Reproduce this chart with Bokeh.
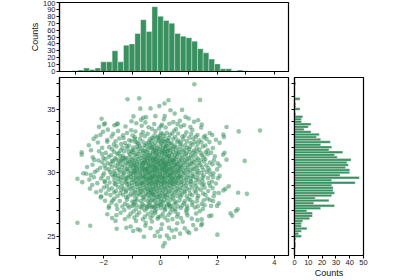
from bokeh.plotting import figure
from bokeh.layouts import column, row
from bokeh.models import Range1d, FixedTicker
from bokeh.embed import file_html
from bokeh.resources import INLINE

GREEN = "#2e8b57"
FONT = "Liberation Sans"

# ---- marginal histogram of x (top), bins of width 0.2 starting at -3.1
top_counts = [1, 2, 5, 3, 5, 14, 14, 30, 14, 38, 40, 55, 75, 58, 94, 80, 74, 70,
              55, 51, 49, 44, 33, 27, 18, 11, 4, 4, 1, 2, 1]
top_first_edge = -3.10
top_bin_width = 0.2

# ---- marginal histogram of y (right), bins of width 0.2 starting at 24.1 (bottom to top)
right_counts = [1, 1, 0, 1, 5, 3, 5, 9, 5, 5, 6, 11, 13, 13, 9, 19, 29, 14, 25, 15,
                27, 29, 28, 28, 27, 44, 27, 47, 33, 40, 40, 37, 39, 38, 41, 31, 29, 35, 25, 27,
                19, 26, 19, 16, 18, 12, 7, 10, 12, 5, 5, 6, 1, 0, 4, 1, 1, 0, 4, 0,
                0, 0, 0, 0, 1]
right_first_edge = 24.1
right_bin_width = 0.2

# ---- scatter points (x, y)
points = [
(1.19,36.95),
(-1.16,35.77),(-0.75,35.84),(1.39,35.72),(0.28,35.69),
(0.14,35.44),(-0.04,35.23),
(-0.71,35.03),(-0.35,35.05),(0.76,34.93),(0.35,34.91),
(0.50,34.64),
(-0.18,34.44),(-0.51,34.36),(0.15,34.45),(-0.95,34.42),(-0.61,34.32),(0.88,34.38),
(-2.07,34.23),(0.99,34.26),(0.12,34.19),(-0.68,34.15),(1.32,34.12),
(1.18,34.00),(-0.53,33.95),(-1.02,34.04),(0.45,33.97),(0.68,34.08),
(-1.99,33.79),(-1.54,33.79),(-1.62,33.72),(-1.95,33.86),(-1.50,33.85),(-0.22,33.82),(0.05,33.76),(0.31,33.84),(0.83,33.73),(1.45,33.78),(-0.85,33.88),(0.60,33.81),
(-2.16,33.60),(-1.23,33.63),(-0.42,33.57),(0.02,33.66),(0.18,33.55),(0.72,33.62),(1.05,33.58),(1.43,33.54),(-0.66,33.68),(2.32,33.59),
(3.50,33.31),(-1.85,33.38),(-1.03,33.33),(-0.30,33.44),(0.55,33.42),(1.12,33.36),(-0.05,33.47),
(2.75,33.24),(-1.49,33.28),(-1.18,33.12),(-2.02,33.21),(-0.62,33.18),(-0.18,33.26),(0.22,33.14),(0.48,33.29),(0.91,33.17),(1.73,33.12),(-0.88,33.23),(0.02,33.11),
(2.21,33.00),(-2.11,32.97),(-0.68,32.97),(-0.98,32.92),(1.57,32.90),(1.82,32.96),(-1.66,33.05),(-1.32,32.94),(-0.45,33.06),(-0.21,32.93),(0.08,33.02),(0.33,32.98),(0.62,33.07),(0.85,32.92),(1.08,33.03),(1.30,32.96),(-0.02,32.91),(0.41,33.08),
(2.23,32.80),(-2.26,32.85),(-1.30,32.72),(-0.90,32.78),(-1.72,32.83),(-0.55,32.86),(-0.30,32.74),(-0.08,32.81),(0.15,32.88),(0.29,32.72),(0.52,32.79),(0.77,32.84),(1.01,32.75),(1.24,32.82),(1.52,32.77),(-0.12,32.71),
(-0.90,32.62),(-1.87,32.56),(-2.35,32.65),(-1.45,32.68),(-1.10,32.55),(-0.72,32.66),(-0.38,32.59),(-0.25,32.68),(-0.04,32.54),(0.10,32.63),(0.24,32.57),(0.45,32.66),(0.63,32.52),(0.80,32.61),(1.15,32.68),(1.36,32.55),(1.62,32.64),(1.95,32.58),(0.01,32.69),
(-1.87,32.43),(1.72,32.40),(-2.20,32.37),(-1.58,32.46),(-1.25,32.33),(-1.02,32.48),(-0.81,32.36),(-0.63,32.44),(-0.49,32.31),(-0.33,32.47),(-0.19,32.38),(-0.07,32.45),(0.04,32.32),(0.16,32.41),(0.27,32.48),(0.39,32.35),(0.58,32.43),(0.71,32.37),(0.93,32.46),(1.06,32.33),(1.21,32.42),(1.44,32.38),(-0.41,32.36),(0.11,32.47),(-0.88,32.41),(2.08,32.34),
(-1.64,32.20),(-2.52,32.15),(-1.38,32.24),(-1.11,32.13),(-0.77,32.26),(-0.56,32.17),(-0.28,32.23),(-0.14,32.11),(0.02,32.27),(0.19,32.14),(0.36,32.22),(0.50,32.12),(0.69,32.25),(0.87,32.16),(1.13,32.21),(1.31,32.27),(1.58,32.13),(-0.37,32.16),(0.28,32.28),
(-1.80,32.00),(1.84,31.93),(-2.05,31.96),(-1.55,32.06),(-1.34,31.94),(-1.19,32.08),(-0.96,31.97),(-0.83,32.04),(-0.66,31.92),(-0.52,32.07),(-0.39,31.98),(-0.24,32.05),(-0.11,31.91),(0.00,32.03),(0.09,31.96),(0.21,32.08),(0.33,31.94),(0.46,32.02),(0.58,31.97),(0.74,32.06),(0.92,31.93),(1.04,32.01),(1.27,31.98),(1.49,32.05),(-0.31,31.95),(0.15,32.04),(-0.73,32.09),
(-2.44,31.76),(-1.70,31.84),(-1.41,31.73),(-1.16,31.87),(-0.94,31.78),(-0.79,31.85),(-0.61,31.74),(-0.45,31.82),(-0.29,31.88),(-0.16,31.75),(-0.04,31.83),(0.07,31.72),(0.18,31.86),(0.31,31.79),(0.43,31.88),(0.55,31.73),(0.68,31.82),(0.83,31.77),(1.00,31.85),(1.18,31.74),(1.37,31.81),(1.66,31.78),(-0.21,31.79),(0.26,31.71),(-1.02,31.72),
(-2.77,31.60),(-2.16,31.68),(2.25,31.56),(-1.92,31.55),(-1.63,31.64),(-1.47,31.52),(-1.28,31.67),(-1.12,31.58),(-0.99,31.63),(-0.86,31.51),(-0.72,31.66),(-0.60,31.57),(-0.47,31.62),(-0.36,31.54),(-0.25,31.68),(-0.13,31.59),(-0.03,31.65),(0.06,31.53),(0.14,31.61),(0.24,31.67),(0.35,31.56),(0.44,31.64),(0.57,31.52),(0.66,31.60),(0.79,31.66),(0.91,31.55),(1.03,31.63),(1.16,31.58),(1.28,31.67),(1.42,31.53),(1.59,31.61),(1.78,31.57),(-0.54,31.69),(0.10,31.69),(-0.19,31.52),
(-2.77,31.41),(2.20,31.40),(-2.05,31.45),(-1.74,31.36),(-1.52,31.47),(-1.33,31.33),(-1.06,31.44),(-0.91,31.38),(-0.77,31.46),(-0.64,31.32),(-0.50,31.41),(-0.38,31.37),(-0.27,31.48),(-0.14,31.34),(-0.06,31.43),(0.05,31.38),(0.17,31.46),(0.29,31.33),(0.40,31.42),(0.51,31.36),(0.63,31.47),(0.76,31.39),(0.89,31.44),(1.07,31.35),(1.23,31.42),(1.46,31.37),(1.66,31.45),(-0.45,31.32),(0.22,31.41),
(-2.38,31.20),(1.91,31.29),(-2.01,31.15),(-1.82,31.24),(-1.60,31.12),(-1.41,31.26),(-1.22,31.17),(-1.09,31.23),(-0.96,31.11),(-0.82,31.27),(-0.69,31.16),(-0.56,31.22),(-0.43,31.13),(-0.32,31.25),(-0.20,31.18),(-0.09,31.28),(0.01,31.14),(0.12,31.21),(0.23,31.26),(0.34,31.12),(0.47,31.19),(0.59,31.24),(0.72,31.15),(0.86,31.22),(0.99,31.17),(1.14,31.26),(1.31,31.13),(1.52,31.21),(-0.27,31.13),(0.30,31.28),(-1.31,31.12),
(-2.33,31.00),(2.32,31.02),(1.88,30.98),(2.96,30.92),(-2.18,30.95),(-1.94,31.06),(-1.70,30.93),(-1.55,31.04),(-1.38,30.97),(-1.24,31.08),(-1.13,30.92),(-1.01,31.03),(-0.89,30.96),(-0.78,31.07),(-0.66,30.91),(-0.57,31.01),(-0.46,30.94),(-0.37,31.06),(-0.28,30.98),(-0.19,31.08),(-0.10,30.93),(-0.02,31.02),(0.07,30.96),(0.16,31.07),(0.25,30.92),(0.33,31.03),(0.42,30.97),(0.53,31.08),(0.64,30.94),(0.75,31.02),(0.87,30.96),(1.00,31.06),(1.12,30.92),(1.26,31.01),(1.41,30.97),(1.58,31.05),(-0.52,31.09),(0.11,30.91),(-0.14,31.04),(0.48,30.99),(-1.45,30.93),
(-2.05,30.82),(-1.86,30.74),(-1.67,30.86),(-1.49,30.71),(-1.33,30.88),(-1.20,30.77),(-1.08,30.84),(-0.95,30.72),(-0.84,30.87),(-0.74,30.79),(-0.63,30.73),(-0.54,30.85),(-0.44,30.76),(-0.35,30.89),(-0.26,30.71),(-0.17,30.82),(-0.08,30.75),(0.00,30.87),(0.09,30.78),(0.18,30.72),(0.27,30.85),(0.37,30.76),(0.46,30.88),(0.56,30.73),(0.67,30.83),(0.79,30.77),(0.92,30.86),(1.05,30.72),(1.19,30.81),(1.35,30.75),(1.53,30.87),(1.74,30.79),(2.01,30.74),(-0.22,30.88),(0.13,30.71),(-0.58,30.78),(0.41,30.81),(-1.01,30.79),
(2.08,30.54),(-2.39,30.62),(-1.97,30.56),(-1.76,30.67),(-1.58,30.53),(-1.42,30.64),(-1.27,30.58),(-1.14,30.68),(-1.03,30.52),(-0.92,30.61),(-0.81,30.66),(-0.71,30.55),(-0.61,30.63),(-0.51,30.69),(-0.42,30.57),(-0.33,30.65),(-0.24,30.52),(-0.15,30.61),(-0.06,30.68),(0.03,30.54),(0.11,30.63),(0.20,30.57),(0.29,30.66),(0.39,30.53),(0.49,30.62),(0.60,30.68),(0.71,30.56),(0.83,30.64),(0.96,30.59),(1.10,30.67),(1.24,30.54),(1.40,30.62),(1.61,30.57),(1.83,30.65),(-0.37,30.51),(0.24,30.69),(-0.88,30.54),(0.55,30.58),(-0.02,30.61),
(-1.93,30.33),(-2.58,30.44),(-2.12,30.38),(-1.71,30.46),(-1.50,30.35),(-1.35,30.43),(-1.19,30.32),(-1.06,30.47),(-0.95,30.37),(-0.85,30.42),(-0.75,30.34),(-0.65,30.48),(-0.56,30.39),(-0.47,30.31),(-0.39,30.44),(-0.30,30.36),(-0.21,30.48),(-0.12,30.33),(-0.04,30.41),(0.05,30.37),(0.14,30.46),(0.23,30.32),(0.32,30.43),(0.42,30.38),(0.52,30.47),(0.63,30.34),(0.74,30.42),(0.86,30.36),(0.99,30.45),(1.13,30.31),(1.29,30.39),(1.46,30.44),(1.68,30.35),(-0.17,30.39),(0.19,30.41),(-0.62,30.32),(0.68,30.48),
(1.99,30.25),(-2.22,30.18),(-1.82,30.25),(-1.63,30.13),(-1.46,30.22),(-1.31,30.16),(-1.17,30.27),(-1.05,30.12),(-0.94,30.21),(-0.83,30.28),(-0.73,30.14),(-0.64,30.23),(-0.55,30.17),(-0.46,30.26),(-0.37,30.12),(-0.29,30.21),(-0.20,30.27),(-0.12,30.15),(-0.03,30.24),(0.05,30.18),(0.13,30.28),(0.21,30.13),(0.30,30.22),(0.39,30.16),(0.48,30.25),(0.58,30.19),(0.68,30.28),(0.79,30.14),(0.91,30.23),(1.04,30.17),(1.18,30.26),(1.33,30.13),(1.51,30.21),(1.72,30.16),(-0.24,30.14),(0.09,30.25),(-0.51,30.29),(0.35,30.29),(-0.90,30.12),(0.63,30.11),
(-2.71,29.95),(-2.61,29.91),(-2.31,30.04),(-1.98,29.95),(-1.77,30.07),(-1.59,29.93),(-1.43,30.03),(-1.29,29.96),(-1.16,30.08),(-1.04,29.92),(-0.93,30.01),(-0.82,30.06),(-0.72,29.94),(-0.63,30.02),(-0.54,29.97),(-0.45,30.08),(-0.36,29.91),(-0.27,30.04),(-0.19,29.98),(-0.10,30.07),(-0.02,29.93),(0.06,30.03),(0.15,29.96),(0.24,30.08),(0.33,29.92),(0.42,30.01),(0.52,30.06),(0.62,29.95),(0.73,30.04),(0.85,29.97),(0.98,30.07),(1.12,29.93),(1.27,30.02),(1.44,29.96),(1.63,30.05),(1.86,29.94),(-0.41,29.99),(0.19,30.05),(-0.87,29.97),(0.47,29.94),
(2.08,29.74),(-2.45,29.82),(-2.03,29.76),(-1.72,29.85),(-1.48,29.73),(-1.30,29.84),(-1.12,29.77),(-0.97,29.86),(-0.84,29.72),(-0.72,29.81),(-0.61,29.75),(-0.50,29.87),(-0.40,29.78),(-0.30,29.71),(-0.20,29.83),(-0.11,29.76),(-0.02,29.88),(0.07,29.73),(0.16,29.82),(0.26,29.77),(0.36,29.86),(0.47,29.72),(0.58,29.81),(0.70,29.75),(0.83,29.85),(0.97,29.78),(1.13,29.72),(1.31,29.83),(1.52,29.77),(1.76,29.86),(-0.25,29.75),(0.31,29.79),(-1.60,29.79),
(-2.92,29.51),(-2.09,29.54),(2.02,29.56),(-2.34,29.63),(-1.84,29.58),(-1.65,29.67),(-1.50,29.55),(-1.37,29.64),(-1.25,29.52),(-1.14,29.61),(-1.04,29.68),(-0.95,29.56),(-0.86,29.63),(-0.77,29.53),(-0.69,29.66),(-0.61,29.59),(-0.53,29.68),(-0.45,29.54),(-0.37,29.62),(-0.29,29.57),(-0.21,29.66),(-0.13,29.52),(-0.05,29.61),(0.03,29.67),(0.11,29.55),(0.19,29.63),(0.27,29.58),(0.35,29.67),(0.44,29.53),(0.53,29.62),(0.62,29.57),(0.72,29.66),(0.82,29.54),(0.93,29.62),(1.05,29.58),(1.18,29.67),(1.32,29.53),(1.48,29.61),(1.67,29.57),(1.85,29.65),(-0.33,29.51),(0.07,29.59),(-0.57,29.64),(0.40,29.51),(-0.09,29.69),(-1.20,29.58),(0.67,29.69),
(-1.96,29.33),(-2.50,29.45),(1.81,29.30),(-1.62,29.38),(-1.38,29.46),(-1.19,29.34),(-1.02,29.43),(-0.87,29.37),(-0.74,29.47),(-0.62,29.32),(-0.50,29.41),(-0.38,29.36),(-0.27,29.45),(-0.16,29.33),(-0.06,29.42),(0.04,29.37),(0.14,29.46),(0.25,29.34),(0.36,29.43),(0.48,29.38),(0.61,29.47),(0.75,29.33),(0.90,29.41),(1.07,29.36),(1.26,29.44),(1.47,29.39),(-0.45,29.48),
(-2.75,29.25),(-1.96,29.25),(1.52,29.12),(-2.22,29.17),(-1.79,29.22),(-1.61,29.13),(-1.47,29.27),(-1.34,29.16),(-1.22,29.24),(-1.11,29.12),(-1.01,29.21),(-0.91,29.28),(-0.82,29.15),(-0.73,29.23),(-0.64,29.18),(-0.56,29.27),(-0.48,29.13),(-0.40,29.22),(-0.32,29.17),(-0.24,29.26),(-0.16,29.12),(-0.08,29.21),(0.00,29.28),(0.08,29.15),(0.16,29.23),(0.24,29.18),(0.33,29.27),(0.42,29.13),(0.51,29.22),(0.61,29.16),(0.71,29.25),(0.82,29.12),(0.94,29.21),(1.07,29.27),(1.21,29.15),(1.37,29.23),(1.70,29.19),(1.95,29.14),(-0.28,29.14),(0.12,29.26),(-0.68,29.11),(0.37,29.19),(-0.12,29.29),(0.56,29.29),
(2.40,28.92),(-2.40,29.02),(-1.88,28.95),(-1.58,29.06),(-1.36,28.93),(-1.17,29.04),(-1.00,28.97),(-0.86,29.08),(-0.73,28.94),(-0.61,29.03),(-0.50,28.96),(-0.39,29.07),(-0.28,28.92),(-0.18,29.01),(-0.08,28.95),(0.02,29.06),(0.12,28.93),(0.23,29.02),(0.34,28.97),(0.46,29.08),(0.59,28.94),(0.73,29.03),(0.89,28.96),(1.06,29.07),(1.25,28.93),(1.47,29.02),(1.74,28.97),
(-2.48,28.74),(2.28,28.72),(-1.99,28.83),(-1.71,28.76),(-1.49,28.86),(-1.29,28.73),(-1.12,28.82),(-0.97,28.77),(-0.84,28.87),(-0.71,28.72),(-0.59,28.81),(-0.48,28.75),(-0.37,28.86),(-0.26,28.73),(-0.16,28.82),(-0.06,28.77),(0.04,28.88),(0.14,28.74),(0.25,28.83),(0.36,28.78),(0.48,28.86),(0.61,28.72),(0.76,28.81),(0.92,28.76),(1.10,28.85),(1.30,28.73),(1.55,28.82),(1.83,28.78),
(2.21,28.60),(-2.10,28.57),(-1.82,28.66),(-1.57,28.54),(-1.38,28.63),(-1.21,28.58),(-1.06,28.67),(-0.92,28.53),(-0.79,28.62),(-0.67,28.56),(-0.55,28.65),(-0.44,28.52),(-0.33,28.61),(-0.22,28.67),(-0.12,28.55),(-0.02,28.63),(0.08,28.58),(0.19,28.66),(0.30,28.53),(0.42,28.62),(0.55,28.57),(0.69,28.66),(0.84,28.54),(1.01,28.63),(1.20,28.58),(1.42,28.66),(1.68,28.55),(-0.40,28.68),
(-2.26,28.46),(2.73,28.41),(3.04,28.33),(2.05,28.40),(1.90,28.42),(-1.91,28.35),(-1.63,28.44),(-1.41,28.37),(-1.22,28.47),(-1.05,28.33),(-0.90,28.42),(-0.76,28.36),(-0.63,28.45),(-0.51,28.32),(-0.39,28.41),(-0.28,28.37),(-0.17,28.46),(-0.06,28.33),(0.05,28.42),(0.16,28.36),(0.28,28.45),(0.41,28.34),(0.54,28.43),(0.69,28.37),(0.85,28.46),(1.04,28.33),(1.25,28.41),(1.50,28.36),(-0.33,28.48),
(-2.08,28.14),(-1.76,28.23),(-1.51,28.16),(-1.31,28.26),(-1.13,28.13),(-0.97,28.22),(-0.83,28.17),(-0.70,28.27),(-0.58,28.12),(-0.46,28.21),(-0.35,28.16),(-0.24,28.25),(-0.13,28.13),(-0.02,28.22),(0.09,28.17),(0.21,28.26),(0.33,28.12),(0.46,28.21),(0.60,28.16),(0.75,28.25),(0.92,28.13),(1.11,28.22),(1.33,28.17),(1.58,28.26),(1.87,28.14),(-0.28,28.28),(0.15,28.11),
(-2.10,28.05),(-1.62,27.96),(-1.20,28.06),(-0.88,27.93),(-0.62,28.03),(-0.40,27.97),(-0.19,28.07),(0.01,27.94),(0.22,28.04),(0.45,27.98),(0.70,28.06),(0.98,27.93),(1.30,28.02),(1.65,27.96),(-0.05,28.08),
(-1.68,27.82),(1.85,27.77),(1.74,27.84),(-1.43,27.76),(-1.18,27.86),(-0.99,27.73),(-0.83,27.82),(-0.69,27.77),(-0.56,27.87),(-0.44,27.72),(-0.32,27.81),(-0.21,27.76),(-0.10,27.85),(0.01,27.73),(0.12,27.82),(0.24,27.77),(0.37,27.86),(0.51,27.72),(0.67,27.81),(0.85,27.76),(1.05,27.85),(1.28,27.74),(1.52,27.83),(-1.95,27.79),(-0.26,27.89),
(2.05,27.58),(-1.72,27.64),(-1.25,27.55),(-0.92,27.66),(-0.64,27.53),(-0.38,27.62),(-0.14,27.57),(0.08,27.67),(0.31,27.54),(0.56,27.63),(0.83,27.58),(1.13,27.66),(1.45,27.54),(-0.02,27.52),
(1.99,27.38),(-1.81,27.36),(-1.55,27.45),(-1.34,27.33),(-1.15,27.42),(-0.99,27.37),(-0.85,27.46),(-0.72,27.32),(-0.60,27.41),(-0.49,27.36),(-0.38,27.45),(-0.28,27.33),(-0.18,27.42),(-0.08,27.38),(0.02,27.47),(0.12,27.34),(0.23,27.43),(0.35,27.37),(0.48,27.46),(0.62,27.33),(0.77,27.42),(0.93,27.36),(1.11,27.45),(1.31,27.34),(1.55,27.43),(1.78,27.38),(-0.43,27.31),(0.28,27.48),(-0.95,27.49),
(-1.52,27.14),(2.71,27.12),(-1.82,27.22),(-1.10,27.25),(-0.86,27.13),(-0.66,27.22),(-0.48,27.17),(-0.31,27.26),(-0.15,27.12),(0.01,27.21),(0.17,27.16),(0.34,27.25),(0.52,27.13),(0.72,27.22),(0.95,27.17),(1.21,27.26),(1.49,27.14),(-0.22,27.28),(0.42,27.11),
(-1.27,27.05),(2.65,26.98),(-0.95,26.94),(-0.55,27.04),(-0.20,26.97),(0.15,27.06),(0.52,26.93),(0.90,27.03),(1.38,26.96),
(2.46,26.80),(-1.87,26.72),(-1.40,26.84),(-1.05,26.76),(-0.75,26.86),(-0.45,26.73),(-0.18,26.82),(0.08,26.77),(0.35,26.87),(0.62,26.74),(0.92,26.83),(1.25,26.78),(-0.32,26.88),
(2.52,26.60),(1.71,26.58),(1.79,26.62),(-1.55,26.64),(-1.12,26.55),(-0.82,26.66),(-0.55,26.53),(-0.28,26.62),(0.00,26.57),(0.28,26.66),(0.58,26.54),(0.95,26.63),(-0.08,26.51),
(-1.70,26.42),(-1.25,26.35),(-0.92,26.46),(-0.62,26.33),(-0.35,26.44),(-0.10,26.37),(0.15,26.46),(0.42,26.34),(0.72,26.43),(1.10,26.38),(1.45,26.32),
(-1.58,26.20),(-0.86,26.20),(-0.30,26.15),(0.25,26.24),(0.78,26.14),(1.30,26.26),
(-2.92,26.05),(0.59,26.02),(1.46,25.97),(-0.52,26.06),(0.05,25.93),
(-2.47,25.82),(-0.53,25.82),(-1.05,25.76),(1.15,25.87),(1.43,25.86),
(-1.54,25.58),(-1.20,25.66),(-0.80,25.54),(-0.35,25.63),(0.02,25.57),(0.30,25.66),(0.55,25.53),(0.85,25.62),(1.25,25.55),
(-0.96,25.41),(-0.72,25.46),(-0.10,25.35),(0.40,25.44),(0.95,25.37),
(0.69,25.20),(1.01,25.25),(2.00,25.12),
(-0.20,25.02),(-0.58,24.96),(0.22,25.05),(0.48,24.94),(-0.02,24.98),
(0.30,24.82),
(0.15,24.45),
(0.09,24.20),
]
scatter_x = [p[0] for p in points]
scatter_y = [p[1] for p in points]

# bin edges for the histograms
top_left = [top_first_edge + i * top_bin_width for i in range(len(top_counts))]
top_right = [e + top_bin_width for e in top_left]
right_bottom = [right_first_edge + i * right_bin_width for i in range(len(right_counts))]
right_top = [e + right_bin_width for e in right_bottom]

x_range = Range1d(-3.55, 4.5)
y_range = Range1d(23.48, 37.48)


def make_fig(width, height, xr, yr, left, right, top, bottom):
    p = figure(width=width, height=height, x_range=xr, y_range=yr,
               toolbar_location=None, output_backend="svg",
               min_border_left=left, min_border_right=right,
               min_border_top=top, min_border_bottom=bottom)
    p.grid.grid_line_color = None
    p.outline_line_color = "black"
    p.outline_line_width = 1.2
    p.outline_line_alpha = 1.0
    p.background_fill_color = "white"
    p.border_fill_color = "white"
    for ax in p.axis:
        ax.axis_line_color = "black"
        ax.axis_line_width = 1.2
        ax.major_tick_out = 3
        ax.major_tick_in = 0
        ax.minor_tick_out = 3
        ax.minor_tick_in = 0
        ax.major_tick_line_color = "black"
        ax.minor_tick_line_color = "black"
        ax.major_label_text_font = FONT
        ax.major_label_text_font_size = "7.5px"
        ax.major_label_text_color = "#222222"
        ax.major_label_standoff = 1
        ax.axis_label_text_font = FONT
        ax.axis_label_text_font_size = "9px"
        ax.axis_label_text_font_style = "normal"
        ax.axis_label_text_color = "#111111"
        ax.axis_label_standoff = 0
    return p


# top histogram (x ticks without labels are drawn as minor ticks)
p_top = make_fig(400, 76, x_range, Range1d(0, 100), 59, 112, 2, 5)
p_top.quad(left=top_left, right=top_right, bottom=0, top=top_counts,
           fill_color=GREEN, fill_alpha=0.95, line_color="white", line_alpha=0.45, line_width=0.8)
p_top.xaxis.ticker = FixedTicker(ticks=[], minor_ticks=[-3, -2, -1, 0, 1, 2, 3, 4])
p_top.xaxis.major_label_standoff = 0
p_top.yaxis.ticker = FixedTicker(ticks=list(range(0, 101, 10)))
p_top.yaxis.axis_label = "Counts"

# scatter
p_sc = make_fig(291, 204, x_range, y_range, 59, 3, 1, 21)
p_sc.scatter(scatter_x, scatter_y, size=4.6, fill_color=GREEN, fill_alpha=0.5, line_color=None)
p_sc.xaxis.ticker = FixedTicker(ticks=[-2, 0, 2, 4], minor_ticks=[-3, -1, 1, 3])
p_sc.yaxis.ticker = FixedTicker(ticks=[25, 30, 35],
                                minor_ticks=[24, 26, 27, 28, 29, 31, 32, 33, 34, 36, 37])

# right histogram
p_rt = make_fig(109, 204, Range1d(0, 50), y_range, 3, 37, 1, 21)
p_rt.quad(left=0, right=right_counts, bottom=right_bottom, top=right_top,
          fill_color=GREEN, fill_alpha=0.95, line_color="white", line_alpha=0.45, line_width=0.8)
p_rt.xaxis.ticker = FixedTicker(ticks=[0, 10, 20, 30, 40, 50])
p_rt.xaxis.axis_label = "Counts"
p_rt.yaxis.ticker = FixedTicker(ticks=[], minor_ticks=list(range(24, 38)))
p_rt.yaxis.major_label_standoff = 0

layout = column(p_top, row(p_sc, p_rt))

open("out.html", "w").write(file_html(layout, INLINE))
